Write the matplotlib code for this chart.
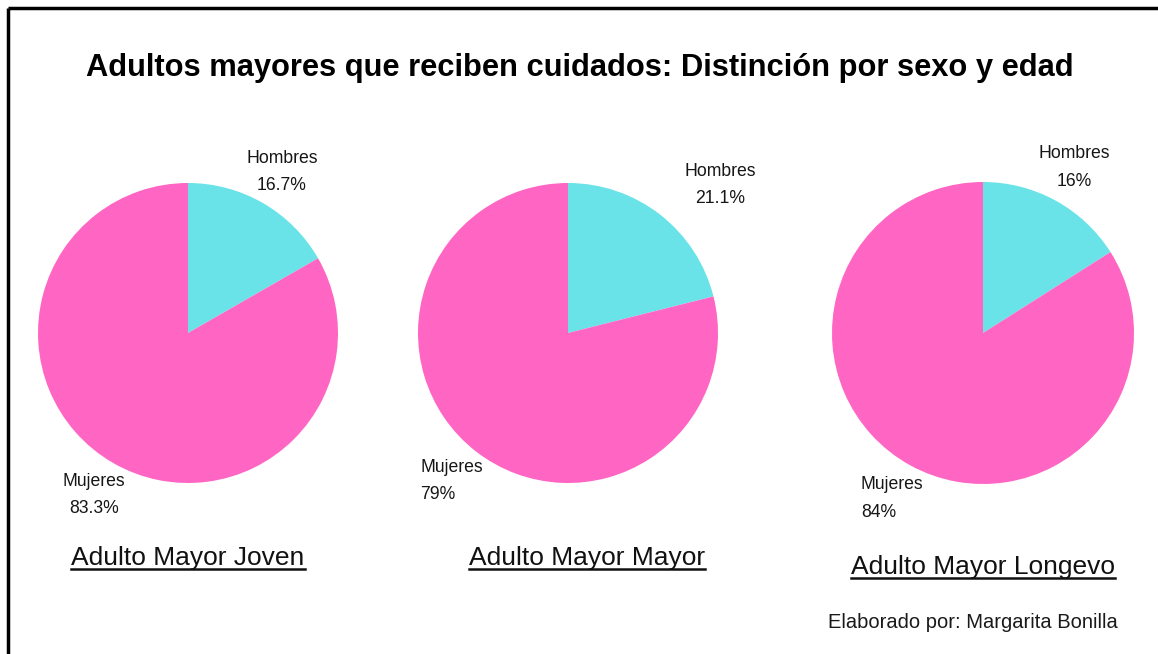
import numpy as np
import matplotlib
matplotlib.use("Agg")
import matplotlib.pyplot as plt
from matplotlib.lines import Line2D

plt.rcParams['font.family'] = ['Liberation Sans', 'DejaVu Sans']

W, H = 1158, 654

titulo = "Adultos mayores que reciben cuidados: Distinción por sexo y edad"
grupos = ["Adulto Mayor Joven", "Adulto Mayor Mayor", "Adulto Mayor Longevo"]
sexos = ["Hombres", "Mujeres"]
hombres_pct = [16.7, 21.1, 16]
mujeres_pct = [83.3, 79, 84]
pct_txt = [["16.7%", "83.3%"], ["21.1%", "79%"], ["16%", "84%"]]
colores = ["#69E3E7", "#FF66C4"]
autor = "Elaborado por: Margarita Bonilla"

# layout in pixel units (y measured from top)
centros = [(188, 333), (568, 333), (983, 333)]
radios = [150, 150, 151]
sub_pos = [(188, 565), (587, 565), (983, 574)]
lab_dist = 1.25
lab_nudge = [[(0, -1), (0, 0)], [(37, 0), (-1, 0)], [(0, 0), (0, 0)]]
lab_align = [["center", "center"], ["center", "left"], ["center", "left"]]

fig = plt.figure(figsize=(W / 100, H / 100), dpi=100)
ax = fig.add_axes([0, 0, 1, 1])
ax.set_xlim(0, W)
ax.set_ylim(0, H)
ax.set_aspect("equal")
ax.axis("off")

# frame: only the top and left edges are visible
ax.plot([8, W], [H - 8, H - 8], color="black", lw=2.5, solid_capstyle="butt")
ax.plot([8, 8], [H - 8, 0], color="black", lw=2.5, solid_capstyle="butt")

ax.text(580, H - 76, titulo, ha="center", va="baseline",
        fontsize=22.2, fontweight="bold", color="black")

for i in range(3):
    cx, cy = centros[i]
    r = radios[i]
    vals = [hombres_pct[i], mujeres_pct[i]]
    wedges, _ = ax.pie(vals, colors=colores, startangle=90, counterclock=False,
                       center=(cx, H - cy), radius=r, frame=True)
    for j, w in enumerate(wedges):
        mid = np.deg2rad((w.theta1 + w.theta2) / 2)
        lx = cx + lab_dist * r * np.cos(mid) + lab_nudge[i][j][0]
        ly = H - cy + lab_dist * r * np.sin(mid) + lab_nudge[i][j][1]
        ax.text(lx, ly, sexos[j] + "\n" + pct_txt[i][j], ha="center", va="center",
                multialignment=lab_align[i][j], fontsize=12.7, linespacing=1.8,
                color="#161616")

ax.set_xlim(0, W)
ax.set_ylim(0, H)
ax.axis("off")

subs = []
for i in range(3):
    sx, sy = sub_pos[i]
    t = ax.text(sx, H - sy, grupos[i], ha="center", va="baseline",
                fontsize=19, color="#111111")
    subs.append((t, sy))

ax.text(828, H - 628, autor, ha="left", va="baseline", fontsize=14.5, color="#1a1a1a")

# underline the group titles
fig.canvas.draw()
rend = fig.canvas.get_renderer()
for t, sy in subs:
    bb = t.get_window_extent(renderer=rend)
    ax.add_line(Line2D([bb.x0, bb.x1], [H - sy - 3.5, H - sy - 3.5],
                       color="#111111", lw=1.8))

fig.savefig("out.png", dpi=100)
